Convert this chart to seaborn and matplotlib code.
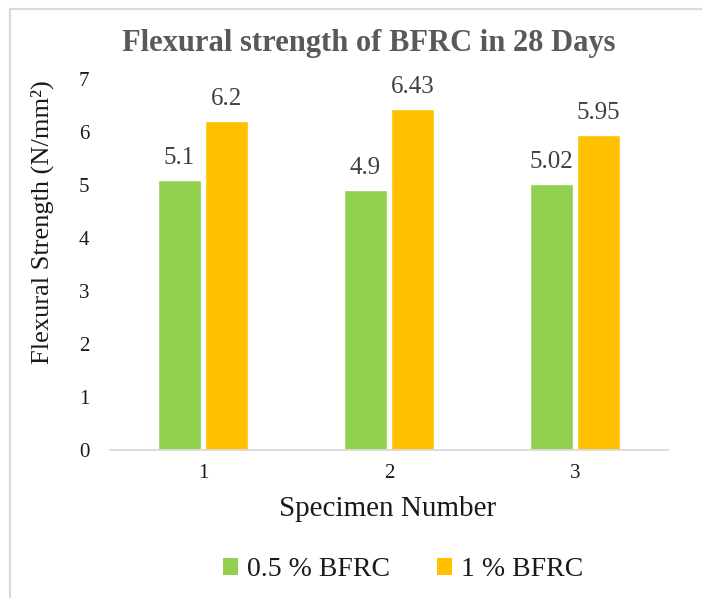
import matplotlib
matplotlib.use("Agg")
import matplotlib.pyplot as plt
import seaborn as sns
import pandas as pd
from matplotlib.patches import Patch
from matplotlib.lines import Line2D

specimens = ["1", "2", "3"]
series_names = ["0.5 % BFRC", "1 % BFRC"]
vals_05 = [5.1, 4.9, 5.02]
vals_1 = [6.2, 6.43, 5.95]
yticks = [0, 1, 2, 3, 4, 5, 6, 7]
colors = ["#92D050", "#FFC000"]

sns.set_theme(style="white")
plt.rcParams["font.family"] = ["Liberation Serif", "DejaVu Serif"]

df = pd.DataFrame({
    "Specimen": specimens * 2,
    "Series": [series_names[0]] * 3 + [series_names[1]] * 3,
    "Value": vals_05 + vals_1,
})

W, H = 702, 598
fig = plt.figure(figsize=(W / 100, H / 100), dpi=100)
ax = fig.add_axes([110 / W, 1 - 450 / H, (668 - 110) / W, (450 - 79) / H])

sns.barplot(data=df, x="Specimen", y="Value", hue="Series", order=specimens,
            hue_order=series_names, palette=colors, width=0.51, gap=0.1,
            saturation=1, ax=ax, legend=False)

ax.set_ylim(0, 7)
ax.set_xlim(-0.5, 2.5)
ax.set_yticks(yticks)
ax.set_xlabel("")
ax.set_ylabel("")
for s in ["top", "right", "left"]:
    ax.spines[s].set_visible(False)
ax.spines["bottom"].set_color("#d9d9d9")
ax.spines["bottom"].set_linewidth(1.3)
ax.tick_params(axis="both", length=0, labelsize=15, colors="#1a1a1a")
ax.tick_params(axis="x", pad=10)
ax.tick_params(axis="y", pad=15)

for cont in ax.containers:
    ax.bar_label(cont, fmt="{:g}", padding=8, fontsize=18, color="#404040")

# title, axis titles
fig.text(369 / W, 1 - 44 / H, "Flexural strength of BFRC in 28 Days",
         ha="center", va="center", fontsize=22, fontweight="bold", color="#595959")
fig.text(388 / W, 1 - 509 / H, "Specimen Number", ha="center", va="center",
         fontsize=21, color="#1a1a1a")
fig.text(42 / W, 1 - 222 / H, "Flexural Strength (N/mm²)", ha="center", va="center",
         rotation=90, fontsize=19, color="#1a1a1a")

handles = [Patch(facecolor=c, edgecolor="none") for c in colors]
fig.legend(handles, series_names, loc="center", bbox_to_anchor=(403 / W, 1 - 570 / H),
           ncol=2, frameon=False, fontsize=20, handlelength=0.55, handleheight=0.55,
           handletextpad=0.3, columnspacing=1.7, labelcolor="#1a1a1a")

# outer chart border (light gray)
fig.add_artist(Line2D([10 / W, 10 / W], [0, 1 - 9 / H], transform=fig.transFigure,
                      color="#d9d9d9", linewidth=1.6))
fig.add_artist(Line2D([10 / W, 1], [1 - 9 / H, 1 - 9 / H], transform=fig.transFigure,
                      color="#d9d9d9", linewidth=1.6))

fig.savefig("out.png", dpi=100, facecolor="white")
